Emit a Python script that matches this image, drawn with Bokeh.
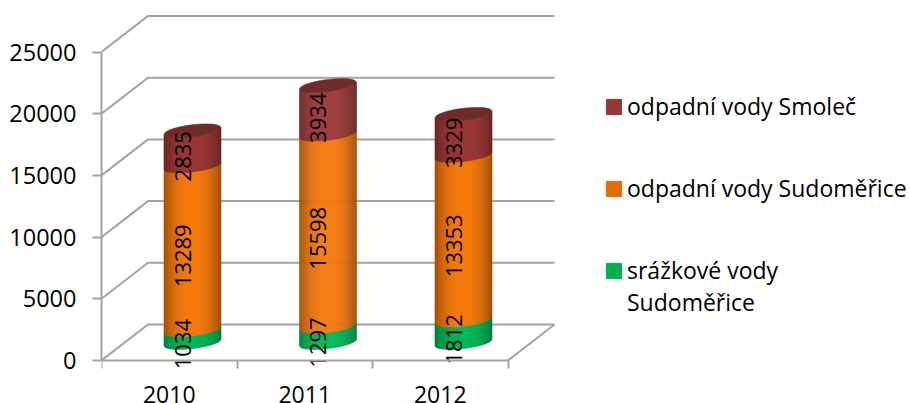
import numpy as np
from bokeh.core.properties import value
from bokeh.embed import file_html
from bokeh.models import FixedTicker, Legend, LegendItem, LinearAxis, Range1d
from bokeh.plotting import figure
from bokeh.resources import INLINE

# --- data ---
years = ["2010", "2011", "2012"]
srazkove_sudomerice = [1034, 1297, 1812]
odpadni_sudomerice = [13289, 15598, 13353]
odpadni_smolec = [2835, 3934, 3329]
y_ticks = [0, 5000, 10000, 15000, 20000, 25000]
series_names = ["odpadní vody Smoleč", "odpadní vody Sudoměřice", "srážkové vody"]
series_name_cont = "Sudoměřice"

# --- layout / style ---
FONT = "Open Sans"
FS = "23px"
W, H = 909, 403
FL = 101
ZERO_PX = 360
FW = W - FL
PX_X, PX_Y = 135.5, 61.7 / 5000
DX, DY = 46.5 / PX_X, 36 / PX_Y
GRID = "#A3A3A3"
CYL_A, CYL_B, CYL_T = 28.5, 6.0, np.radians(7.0)
SHADES = {
    "green": ((0, 184, 88), (0, 125, 60)),
    "orange": ((245, 122, 14), (160, 80, 8)),
    "red": ((155, 56, 56), (106, 38, 38)),
}
LEGEND_COL = {"green": "#00B050", "orange": "#E36C0A", "red": "#953735"}

p = figure(width=W, height=H, output_backend="svg", toolbar_location=None,
           x_range=Range1d(0, FW / PX_X), y_range=Range1d(-(H - ZERO_PX) / PX_Y, ZERO_PX / PX_Y),
           x_axis_type=None, y_axis_type=None,
           min_border_left=FL, min_border_right=0, min_border_top=0, min_border_bottom=0,
           outline_line_color=None, background_fill_color=None, border_fill_color="white")
p.grid.visible = False

# walls and floor lines
n = len(years)
xs, ys = [], []
for v in y_ticks:
    xs.append([0, DX, n + DX])
    ys.append([v, v + DY, v + DY])
xs.append([n, n + DX])
ys.append([0, DY])
p.multi_line(xs, ys, line_color=GRID, line_width=2)

# axes
left = LinearAxis(ticker=FixedTicker(ticks=y_ticks), bounds=(0, 25000))
left.axis_line_color = GRID
left.axis_line_width = 2
left.major_tick_line_color = GRID
left.major_tick_line_width = 2
left.major_tick_out = 9
left.major_tick_in = 0
left.minor_tick_line_color = None
left.major_label_standoff = 16
left.major_label_text_font = FONT
left.major_label_text_font_size = "23.5px"
left.major_label_text_color = "black"
left.major_label_overrides = {t: str(t) for t in y_ticks}
p.add_layout(left, "left")

centers = [i + 0.5 for i in range(n)]
bottom = LinearAxis(ticker=FixedTicker(ticks=centers, minor_ticks=list(range(n + 1))), bounds=(0, n),
                    fixed_location=0)
bottom.axis_line_color = GRID
bottom.axis_line_width = 2
bottom.major_tick_line_color = None
bottom.minor_tick_line_color = GRID
bottom.minor_tick_line_width = 2
bottom.minor_tick_out = 8
bottom.minor_tick_in = 0
bottom.major_label_standoff = 17
bottom.major_label_text_font = FONT
bottom.major_label_text_font_size = FS
bottom.major_label_text_color = "black"
bottom.major_label_overrides = {c: y for c, y in zip(centers, years)}
p.add_layout(bottom, "below")


def front_curve(u):
    c, s = np.cos(CYL_T), np.sin(CYL_T)
    A = s**2 / CYL_A**2 + c**2 / CYL_B**2
    B = 2 * u * c * s * (1 / CYL_A**2 - 1 / CYL_B**2)
    C = u**2 * (c**2 / CYL_A**2 + s**2 / CYL_B**2) - 1
    return (-B - np.sqrt(np.clip(B**2 - 4 * A * C, 0, None))) / (2 * A)


def shade(name, t):
    hi, lo = SHADES[name]
    f = min(1.0, abs(t) ** 2.4)
    return "#%02x%02x%02x" % tuple(int(round(h + (l - h) * f)) for h, l in zip(hi, lo))


edges = np.arange(-CYL_A, CYL_A + 0.5, 1.0)
stacks = [("green", srazkove_sudomerice), ("orange", odpadni_sudomerice), ("red", odpadni_smolec)]
sx, sy, sc = [], [], []
tlabel_x, tlabel_y, tlabel = [], [], []
top_x, top_y = [], []
for i in range(n):
    cx = i + 0.5 + DX / 2
    base = DY / 2
    cum = 0
    for name, vals in stacks:
        v = vals[i]
        y0, y1 = base + cum, base + cum + v
        for e0, e1 in zip(edges[:-1], edges[1:]):
            k0, k1 = front_curve(e0), front_curve(e1)
            sx.append(list(cx + np.array([e0, e1, e1, e0]) / PX_X))
            sy.append([y0 + k0 / PX_Y, y0 + k1 / PX_Y, y1 + k1 / PX_Y, y1 + k0 / PX_Y])
            sc.append(shade(name, (e0 + e1) / 2 / CYL_A))
        tlabel_x.append(cx)
        tlabel_y.append((y0 + y1) / 2)
        tlabel.append(str(v))
        cum += v
    top_x.append(cx)
    top_y.append(base + cum)

p.patches(sx, sy, fill_color=sc, line_color=sc, line_width=0.6)
p.ellipse(top_x, top_y, width=2 * CYL_A, height=2 * CYL_B, angle=CYL_T,
          width_units="screen", height_units="screen",
          fill_color="#6F2A2A", line_color="#6F2A2A", line_width=0.5)

p.text(tlabel_x, tlabel_y, text=tlabel, angle=np.pi / 2, x_offset=-10, y_offset=8,
       text_align="center", text_baseline="middle", text_color="black",
       text_font=value(FONT), text_font_size="22px")

# legend
nan = float("nan")
handles = {c: p.quad(left=[nan], right=[nan], top=[nan], bottom=[nan],
                     fill_color=LEGEND_COL[c], line_color=LEGEND_COL[c])
           for c in ("red", "orange", "green")}
blank = p.quad(left=[nan], right=[nan], top=[nan], bottom=[nan], fill_color=None, line_color=None)
common = dict(orientation="vertical", background_fill_alpha=0, border_line_color=None,
              padding=0, margin=0, glyph_width=19, glyph_height=19, label_standoff=4,
              label_text_font=FONT, label_text_font_size=FS, label_text_color="black",
              label_text_line_height=1.35)
legend = Legend(items=[LegendItem(label=value(lbl), renderers=[handles[c]])
                       for lbl, c in zip(series_names, ("red", "orange", "green"))],
                location=(503, 117), spacing=50, **common)
legend2 = Legend(items=[LegendItem(label=value(series_name_cont), renderers=[blank])],
                 location=(503, 85), **common)
p.add_layout(legend, "center")
p.add_layout(legend2, "center")

open("out.html", "w").write(file_html(p, INLINE))
